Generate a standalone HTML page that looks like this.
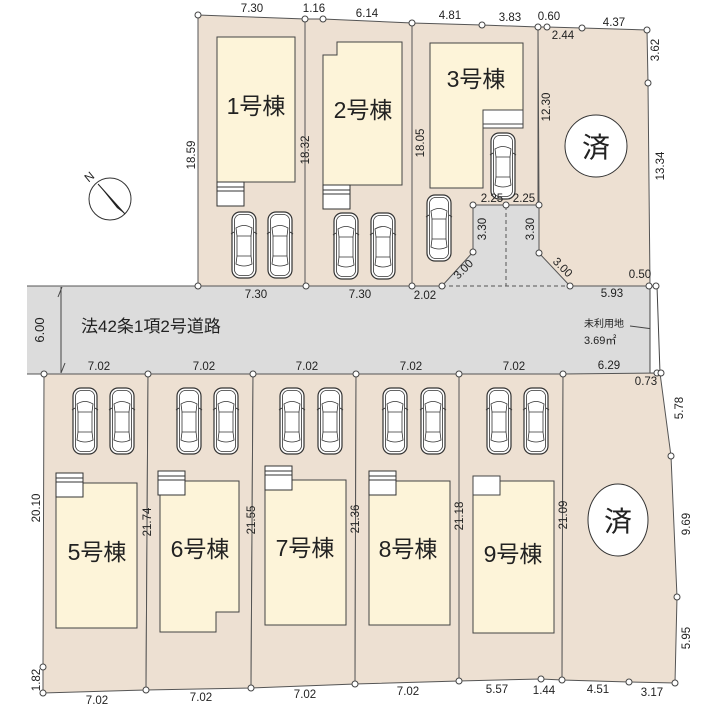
<!DOCTYPE html>
<html><head><meta charset="utf-8"><style>
html,body{margin:0;padding:0;background:#fff}
svg{display:block}
text{font-family:"Liberation Sans","Noto Sans CJK JP",sans-serif;fill:#222}
.d{font-size:11.5px}
.b{font-size:23px}
</style></head><body>
<svg width="709" height="709" viewBox="0 0 709 709" xmlns="http://www.w3.org/2000/svg">
<defs>
<g id="car">
<rect x="0" y="0" width="24" height="66" rx="8" fill="#fff" stroke="#333" stroke-width="1.2"/>
<rect x="2.5" y="2.5" width="19" height="61" rx="6" fill="none" stroke="#333" stroke-width="0.8"/>
<path d="M4 16 Q12 11 20 16 L19 24 L5 24 Z" fill="#fff" stroke="#333" stroke-width="0.8"/>
<path d="M5 44 L19 44 L20 52 Q12 56 4 52 Z" fill="#fff" stroke="#333" stroke-width="0.8"/>
<line x1="5" y1="24" x2="5" y2="44" stroke="#333" stroke-width="0.8"/>
<line x1="19" y1="24" x2="19" y2="44" stroke="#333" stroke-width="0.8"/>
<line x1="-1" y1="22" x2="2" y2="20" stroke="#333"/><line x1="25" y1="22" x2="22" y2="20" stroke="#333"/>
</g>
<g id="ent">
<rect x="0" y="0" width="27" height="24" fill="#fff" stroke="#333" stroke-width="1"/>
<line x1="0" y1="5" x2="27" y2="5" stroke="#333"/><line x1="0" y1="9" x2="27" y2="9" stroke="#333"/>
</g>
</defs>

<rect x="27" y="286" width="624" height="88" fill="#dcdcdc"/>
<polygon points="473,205 539,205 539,253 570,286 442,286 473,252" fill="#dcdcdc"/>
<line x1="506" y1="206" x2="506" y2="286" stroke="#555" stroke-dasharray="4,3"/>
<line x1="442" y1="286" x2="570" y2="286" stroke="#555" stroke-dasharray="4,3"/>
<line x1="27" y1="286" x2="198" y2="286" stroke="#555"/>
<line x1="27" y1="374" x2="44" y2="374" stroke="#555"/>
<line x1="61" y1="287" x2="61" y2="373" stroke="#444"/>
<line x1="58" y1="297" x2="62" y2="287" stroke="#444"/><line x1="61" y1="373" x2="65" y2="363" stroke="#444"/>
<text x="0" y="0" transform="translate(44,330) rotate(-90)" text-anchor="middle" style="font-size:13px">6.00</text>
<text x="81" y="332" style="font-size:17px">法42条1項2号道路</text>
<text x="584" y="327" style="font-size:10px">未利用地</text>
<text x="584" y="344" style="font-size:11px">3.69㎡</text>
<line x1="630" y1="326" x2="653" y2="329" stroke="#444"/>
<polygon points="650,286 657,286 660,373 650,373" fill="#fff" stroke="#444"/>

<g fill="#ede0d2" stroke="#555" stroke-width="1">
<polygon points="198,15 305,19 305,286 198,286"/>
<polygon points="305,19 323,19 412,23 412,286 305,286"/>
<polygon points="412,23 482,25 538,27 538,205 473,205 473,252 442,286 412,286"/>
<polygon points="538,27 547,27 582,28 647,30 648,83 650,286 570,286 539,253 539,205"/>
</g>
<g fill="#ede0d2" stroke="#555" stroke-width="1">
<polygon points="44,374 148,374 146,690 43,693 43,667"/>
<polygon points="148,374 253,374 251,688 146,690"/>
<polygon points="253,374 356,374 355,684 251,688"/>
<polygon points="356,374 459,374 459,681 355,684"/>
<polygon points="459,374 563,374 562,680 541,679 459,681"/>
<polygon points="563,374 660,373 671,456 677,597 675,683 629,682 562,680"/>
</g>

<g fill="#fdf4d9" stroke="#444" stroke-width="1">
<rect x="217" y="37" width="78" height="145"/>
<polygon points="337,42 402,42 402,185 323,185 323,55 337,55"/>
<polygon points="430,43 523,43 523,110 483,110 483,188 430,188"/>
<rect x="56" y="483" width="81" height="145"/>
<polygon points="160,481 239,481 239,612 216,612 216,632 160,632"/>
<rect x="265" y="480" width="81" height="145"/>
<rect x="369" y="481" width="81" height="144"/>
<rect x="473" y="481" width="81" height="152"/>
</g>
<use href="#ent" x="217" y="182"/>
<use href="#ent" x="323" y="185"/>
<rect x="483" y="110" width="40" height="18" fill="#fff" stroke="#444"/>
<line x1="483" y1="124" x2="523" y2="124" stroke="#444"/>
<use href="#ent" x="56" y="473"/>
<use href="#ent" x="158" y="471"/>
<use href="#ent" x="265" y="466"/>
<use href="#ent" x="369" y="471"/>
<rect x="473" y="476" width="27" height="19" fill="#fff" stroke="#444"/>

<use href="#car" x="232" y="212"/><use href="#car" x="268" y="212"/>
<use href="#car" x="334" y="213"/><use href="#car" x="371" y="213"/>
<use href="#car" x="427" y="195"/><use href="#car" x="491" y="133"/>
<use href="#car" x="73" y="388"/><use href="#car" x="110" y="388"/>
<use href="#car" x="177" y="388"/><use href="#car" x="214" y="388"/>
<use href="#car" x="280" y="388"/><use href="#car" x="318" y="388"/>
<use href="#car" x="383" y="388"/><use href="#car" x="421" y="388"/>
<use href="#car" x="487" y="388"/><use href="#car" x="524" y="388"/>

<text x="256" y="114" class="b" text-anchor="middle">1号棟</text>
<text x="363" y="118" class="b" text-anchor="middle">2号棟</text>
<text x="476" y="87" class="b" text-anchor="middle">3号棟</text>
<text x="97" y="560" class="b" text-anchor="middle">5号棟</text>
<text x="200" y="557" class="b" text-anchor="middle">6号棟</text>
<text x="305" y="556" class="b" text-anchor="middle">7号棟</text>
<text x="408" y="557" class="b" text-anchor="middle">8号棟</text>
<text x="513" y="562" class="b" text-anchor="middle">9号棟</text>

<circle cx="596" cy="146" r="31" fill="#fff" stroke="#333"/>
<text x="596" y="157" text-anchor="middle" style="font-size:28px">済</text>
<ellipse cx="618" cy="520" rx="30" ry="36" fill="#fff" stroke="#333"/>
<text x="618" y="531" text-anchor="middle" style="font-size:28px">済</text>

<circle cx="110" cy="199" r="21" fill="#fff" stroke="#333"/>
<polygon points="98,184 125,214 117,208" fill="#222"/>
<line x1="98" y1="184" x2="125" y2="214" stroke="#222"/>
<text x="0" y="0" transform="translate(92,180) rotate(-40)" text-anchor="middle" style="font-size:12px">N</text>

<g fill="#fff" stroke="#444" stroke-width="1">
<circle cx="198" cy="15" r="3"/><circle cx="305" cy="19" r="3"/><circle cx="323" cy="19" r="3"/>
<circle cx="412" cy="23" r="3"/><circle cx="482" cy="25" r="3"/><circle cx="538" cy="27" r="3"/>
<circle cx="547" cy="27" r="3"/><circle cx="582" cy="28" r="3"/><circle cx="647" cy="30" r="3"/>
<circle cx="648" cy="83" r="3"/><circle cx="649" cy="286" r="3"/><circle cx="656" cy="286" r="3"/>
<circle cx="198" cy="286" r="3"/><circle cx="306" cy="286" r="3"/><circle cx="412" cy="286" r="3"/>
<circle cx="442" cy="286" r="3"/><circle cx="473" cy="252" r="3"/><circle cx="473" cy="205" r="3"/>
<circle cx="506" cy="205" r="3"/><circle cx="539" cy="205" r="3"/><circle cx="539" cy="253" r="3"/>
<circle cx="570" cy="286" r="3"/>
<circle cx="44" cy="374" r="3"/><circle cx="148" cy="374" r="3"/><circle cx="253" cy="374" r="3"/>
<circle cx="356" cy="374" r="3"/><circle cx="459" cy="374" r="3"/><circle cx="563" cy="374" r="3"/>
<circle cx="657" cy="373" r="3"/><circle cx="661" cy="373" r="3"/>
<circle cx="671" cy="456" r="3"/><circle cx="677" cy="597" r="3"/><circle cx="675" cy="683" r="3"/>
<circle cx="629" cy="682" r="3"/><circle cx="562" cy="680" r="3"/><circle cx="541" cy="679" r="3"/>
<circle cx="459" cy="681" r="3"/><circle cx="355" cy="684" r="3"/><circle cx="251" cy="688" r="3"/>
<circle cx="146" cy="690" r="3"/><circle cx="43" cy="693" r="3"/><circle cx="43" cy="667" r="3"/>
</g>

<g class="d">
<text x="252" y="12" text-anchor="middle" class="d">7.30</text>
<text x="314" y="12" text-anchor="middle" class="d">1.16</text>
<text x="367" y="17" text-anchor="middle" class="d">6.14</text>
<text x="450" y="19" text-anchor="middle" class="d">4.81</text>
<text x="510" y="21" text-anchor="middle" class="d">3.83</text>
<text x="549" y="20" text-anchor="middle" class="d">0.60</text>
<text x="563" y="39" text-anchor="middle" class="d">2.44</text>
<text x="614" y="26" text-anchor="middle" class="d">4.37</text>
<text x="256" y="298" text-anchor="middle" class="d">7.30</text>
<text x="360" y="298" text-anchor="middle" class="d">7.30</text>
<text x="425" y="299" text-anchor="middle" class="d">2.02</text>
<text x="612" y="297" text-anchor="middle" class="d">5.93</text>
<text x="640" y="278" text-anchor="middle" class="d">0.50</text>
<text x="492" y="202" text-anchor="middle" class="d">2.25</text>
<text x="524" y="202" text-anchor="middle" class="d">2.25</text>
<text x="99" y="370" text-anchor="middle" class="d">7.02</text>
<text x="204" y="370" text-anchor="middle" class="d">7.02</text>
<text x="307" y="370" text-anchor="middle" class="d">7.02</text>
<text x="411" y="370" text-anchor="middle" class="d">7.02</text>
<text x="514" y="370" text-anchor="middle" class="d">7.02</text>
<text x="609" y="369" text-anchor="middle" class="d">6.29</text>
<text x="646" y="385" text-anchor="middle" class="d">0.73</text>
<text x="97" y="704" text-anchor="middle" class="d">7.02</text>
<text x="201" y="701" text-anchor="middle" class="d">7.02</text>
<text x="305" y="698" text-anchor="middle" class="d">7.02</text>
<text x="408" y="695" text-anchor="middle" class="d">7.02</text>
<text x="497" y="693" text-anchor="middle" class="d">5.57</text>
<text x="544" y="694" text-anchor="middle" class="d">1.44</text>
<text x="598" y="693" text-anchor="middle" class="d">4.51</text>
<text x="652" y="696" text-anchor="middle" class="d">3.17</text>
<text transform="translate(195,155) rotate(-90)" text-anchor="middle" class="d">18.59</text>
<text transform="translate(309,150) rotate(-90)" text-anchor="middle" class="d">18.32</text>
<text transform="translate(424,143) rotate(-90)" text-anchor="middle" class="d">18.05</text>
<text transform="translate(550,107) rotate(-90)" text-anchor="middle" class="d">12.30</text>
<text transform="translate(659,50) rotate(-90)" text-anchor="middle" class="d">3.62</text>
<text transform="translate(664,166) rotate(-90)" text-anchor="middle" class="d">13.34</text>
<text transform="translate(486,229) rotate(-90)" text-anchor="middle" class="d">3.30</text>
<text transform="translate(534,229) rotate(-90)" text-anchor="middle" class="d">3.30</text>
<text transform="translate(466,272) rotate(-45)" text-anchor="middle" class="d">3.00</text>
<text transform="translate(560,270) rotate(45)" text-anchor="middle" class="d">3.00</text>
<text transform="translate(40,508) rotate(-90)" text-anchor="middle" class="d">20.10</text>
<text transform="translate(40,680) rotate(-90)" text-anchor="middle" class="d">1.82</text>
<text transform="translate(151,522) rotate(-90)" text-anchor="middle" class="d">21.74</text>
<text transform="translate(255,520) rotate(-90)" text-anchor="middle" class="d">21.55</text>
<text transform="translate(359,519) rotate(-90)" text-anchor="middle" class="d">21.36</text>
<text transform="translate(463,516) rotate(-90)" text-anchor="middle" class="d">21.18</text>
<text transform="translate(567,515) rotate(-90)" text-anchor="middle" class="d">21.09</text>
<text transform="translate(683,408) rotate(-90)" text-anchor="middle" class="d">5.78</text>
<text transform="translate(690,524) rotate(-90)" text-anchor="middle" class="d">9.69</text>
<text transform="translate(690,638) rotate(-90)" text-anchor="middle" class="d">5.95</text>
</g>
</svg>
</body></html>
